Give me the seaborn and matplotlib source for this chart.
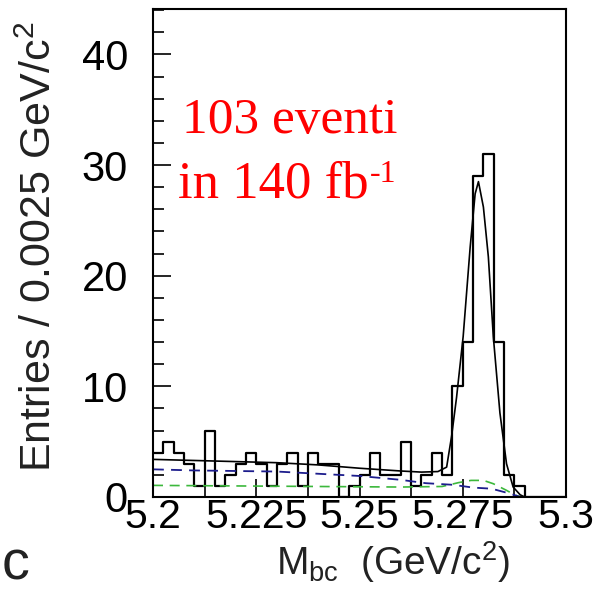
import numpy as np
import matplotlib
matplotlib.use("Agg")
import matplotlib.pyplot as plt
from matplotlib.ticker import MultipleLocator
import seaborn as sns

# ---------------- data ----------------
bin_lo, bin_hi, n_bins = 5.2, 5.3, 40
counts = [4, 5, 4, 3, 1, 6, 1, 2, 3, 4,
          3, 1, 3, 4, 1, 4, 3, 3, 0, 1,
          2, 4, 2, 2, 5, 1, 2, 4, 2, 10,
          14, 29, 31, 14, 2, 1, 0, 0, 0, 0]

# total fit (solid black)
fit_x = [5.2, 5.21, 5.22, 5.23, 5.24, 5.25, 5.26, 5.265, 5.269, 5.2711,
         5.2723, 5.2735, 5.2751, 5.2768, 5.278, 5.2788, 5.28, 5.2812,
         5.2824, 5.284, 5.2856, 5.2872, 5.2889, 5.29]
fit_y = [3.4, 3.3, 3.2, 3.1, 2.9, 2.6, 2.35, 2.25, 2.3, 2.7,
         5.5, 9.0, 14.5, 22.6, 27.4, 28.5, 26.2, 21.7,
         14.5, 7.6, 3.0, 0.9, 0.2, 0.0]

# background component 1 (navy dashed)
bkg1_x = [5.2, 5.21, 5.22, 5.23, 5.24, 5.25, 5.26, 5.266, 5.2727, 5.2775, 5.282, 5.286, 5.289, 5.3]
bkg1_y = [2.5, 2.4, 2.35, 2.3, 2.1, 1.9, 1.55, 1.25, 1.1, 0.85, 0.75, 0.35, 0.0, 0.0]

# background component 2 (green dashed)
bkg2_x = [5.2, 5.22, 5.24, 5.26, 5.27, 5.274, 5.277, 5.28, 5.2824, 5.2856, 5.2875, 5.289]
bkg2_y = [1.05, 1.0, 0.95, 0.9, 0.95, 1.3, 1.5, 1.5, 1.2, 0.6, 0.2, 0.0]

x_ticks = [5.2, 5.225, 5.25, 5.275, 5.3]
x_tick_labels = ["5.2", "5.225", "5.25", "5.275", "5.3"]
y_ticks = [0, 10, 20, 30, 40]
y_tick_labels = ["0", "10", "20", "30", "40"]

# ---------------- styling ----------------
sns.set_theme(style="white")
plt.rcParams["font.family"] = ["Liberation Sans", "DejaVu Sans"]
plt.rcParams["mathtext.fontset"] = "custom"
plt.rcParams["mathtext.rm"] = "Liberation Sans"
plt.rcParams["mathtext.it"] = "Liberation Sans:italic"
plt.rcParams["mathtext.bf"] = "Liberation Sans:bold"

fig = plt.figure(figsize=(5.98, 5.94), dpi=100)
ax = fig.add_axes([153 / 598, (594 - 497) / 594, (566 - 153) / 598, (497 - 9) / 594])

bw = (bin_hi - bin_lo) / n_bins
centers = [bin_lo + (i + 0.5) * bw for i in range(n_bins)]

sns.histplot(x=centers, weights=counts, bins=n_bins, binrange=(bin_lo, bin_hi),
             element="step", fill=False, color="black", linewidth=1.6, ax=ax)

sns.lineplot(x=bkg2_x, y=bkg2_y, ax=ax, color="#3cb83c", linewidth=1.2,
             linestyle=(0, (6, 4)), sort=False, estimator=None)
sns.lineplot(x=bkg1_x, y=bkg1_y, ax=ax, color="#1c1c8c", linewidth=1.3,
             linestyle=(0, (6, 4)), sort=False, estimator=None)
sns.lineplot(x=fit_x, y=fit_y, ax=ax, color="black", linewidth=1.2,
             sort=False, estimator=None)

ax.set_xlim(bin_lo, bin_hi)
ax.set_ylim(0, 44.1)
ax.set_xlabel("")
ax.set_ylabel("")
ax.set_xticks(x_ticks)
ax.set_xticklabels(x_tick_labels)
ax.set_yticks(y_ticks)
ax.set_yticklabels(y_tick_labels)
ax.xaxis.set_minor_locator(MultipleLocator(0.0125))
ax.yaxis.set_minor_locator(MultipleLocator(2))
ax.tick_params(axis="both", which="both", direction="in", colors="black",
               left=True, bottom=True, top=False, right=False)
ax.tick_params(axis="both", which="major", length=13, width=1.2)
ax.tick_params(axis="both", which="minor", length=8, width=1.2)
ax.tick_params(axis="x", which="major", labelsize=29.5, pad=1)
ax.tick_params(axis="y", which="major", labelsize=30, pad=18)
for s in ax.spines.values():
    s.set_color("black")
    s.set_linewidth(1.5)
ax.grid(False)

# axis titles
fig.text(40 / 598, (594 - 247) / 594, "Entries / 0.0025 GeV/c$^{2}$",
         rotation=90, ha="center", va="center", fontsize=31, color="#222222")
fig.text(393 / 598, (594 - 562) / 594, r"M$_{\rm bc}$  (GeV/c$^{2}$)",
         ha="center", va="center", fontsize=28, color="#222222")

# annotation
fig.text(182 / 598, (594 - 133) / 594, "103 eventi", color="red",
         family="Liberation Serif", fontsize=37, ha="left", va="baseline")
t2 = fig.text(178 / 598, (594 - 197) / 594, "in 140 fb", color="red",
              family="Liberation Serif", fontsize=38, ha="left", va="baseline")
fig.canvas.draw()
bb = t2.get_window_extent(renderer=fig.canvas.get_renderer())
x_sup = (bb.x1 + 1) / fig.bbox.width
fig.text(x_sup, (594 - 182) / 594, "-1", color="red",
         family="Liberation Serif", fontsize=23, ha="left", va="baseline")

# stray character at the bottom-left edge
fig.text(2 / 598, 2 / 594, "c", fontsize=40, color="#222222",
         ha="left", va="bottom")

fig.savefig("out.png", dpi=100)
